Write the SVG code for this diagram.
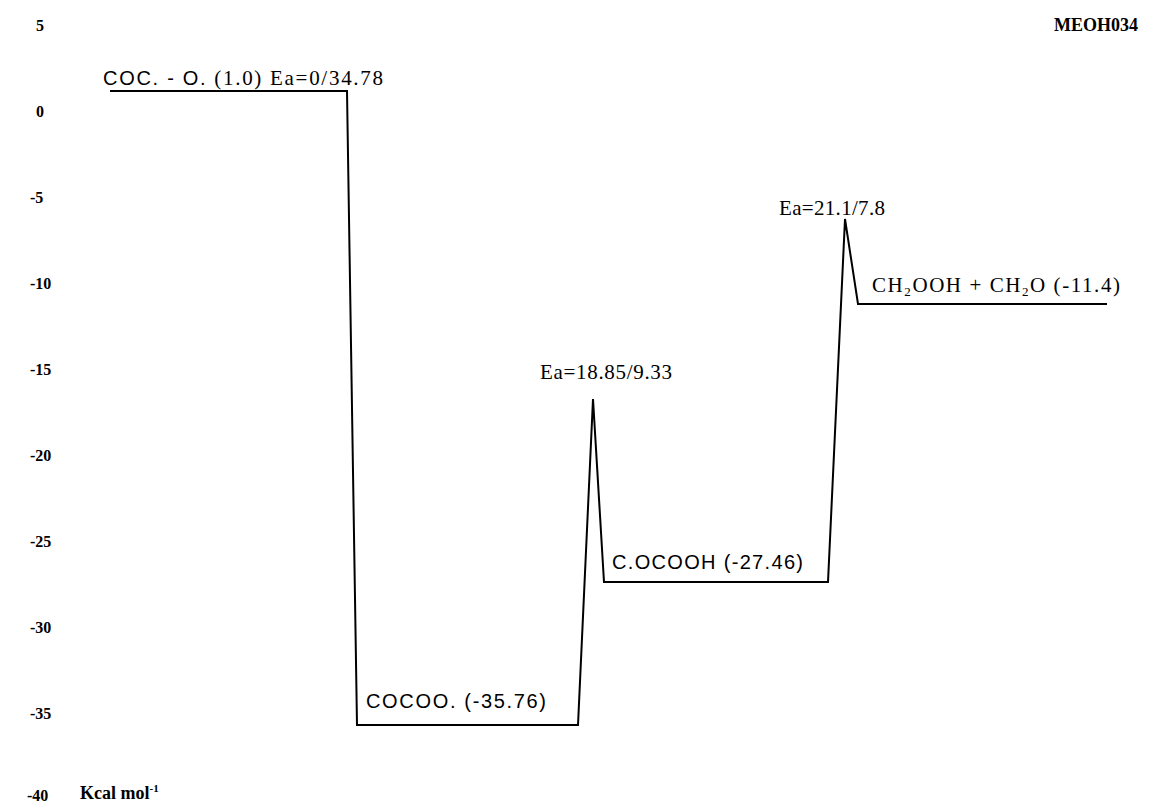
<svg xmlns="http://www.w3.org/2000/svg" width="1156" height="805" viewBox="0 0 1156 805">
<style>
.t{font-family:"Liberation Serif","Times New Roman",serif;font-size:21px;fill:#000}
.s{font-family:"Liberation Sans",Arial,sans-serif;font-size:20px;fill:#000}
.ax{font-family:"Liberation Serif","Times New Roman",serif;font-size:16px;font-weight:bold;fill:#000}
.b{font-family:"Liberation Serif","Times New Roman",serif;font-size:18px;font-weight:bold;fill:#000}
.ln{fill:none;stroke:#000;stroke-width:2;stroke-linejoin:miter}
</style>
<rect width="1156" height="805" fill="#fff"/>
<g id="axis">
<text class="ax" x="36" y="31">5</text>
<text class="ax" x="36" y="117">0</text>
<text class="ax" x="30" y="203">-5</text>
<text class="ax" x="30" y="289">-10</text>
<text class="ax" x="30" y="375">-15</text>
<text class="ax" x="30" y="461">-20</text>
<text class="ax" x="30" y="547">-25</text>
<text class="ax" x="30" y="633">-30</text>
<text class="ax" x="30" y="719">-35</text>
<text class="ax" x="27" y="801">-40</text>
<text class="b" x="80" y="799">Kcal mol<tspan font-size="11" dy="-7">-1</tspan></text>
</g>
<text id="title" class="b" x="1138" y="31" text-anchor="end" font-size="17">MEOH034</text>
<g id="connectors">
<path class="ln" d="M110,91 H347 L357,725 H578 L593,399 L604,582 H828 L845,219 L858,304 H1107"/>
</g>
<g id="n-coc">
<text class="t" x="103" y="85" textLength="280"><tspan class="s">COC. - O.</tspan> (1.0)  Ea=0/34.78</text>
</g>
<g id="n-cocoo">
<text class="s" x="366" y="708" textLength="180">COCOO. (-35.76)</text>
</g>
<g id="n-ts1">
<text class="t" x="540" y="379" textLength="132">Ea=18.85/9.33</text>
</g>
<g id="n-cocooh">
<text class="s" x="612" y="569" textLength="191">C.OCOOH (-27.46)</text>
</g>
<g id="n-ts2">
<text class="t" x="779" y="215" textLength="106">Ea=21.1/7.8</text>
</g>
<g id="n-prod">
<text class="t" x="872" y="292" textLength="248">CH<tspan font-size="13" dy="4">2</tspan><tspan dy="-4">OOH + CH</tspan><tspan font-size="13" dy="4">2</tspan><tspan dy="-4">O (-11.4)</tspan></text>
</g>
</svg>
